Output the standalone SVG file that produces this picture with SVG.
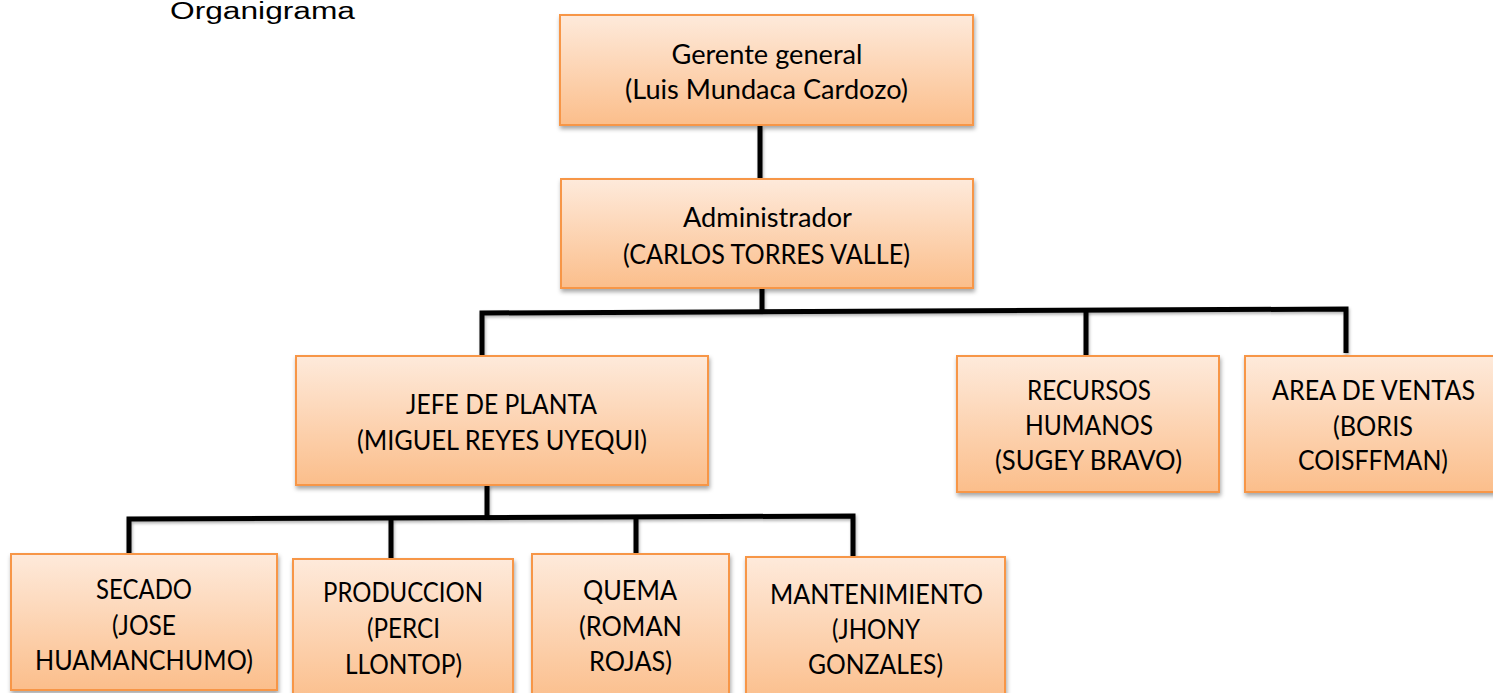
<svg xmlns="http://www.w3.org/2000/svg" width="1493" height="693" viewBox="0 0 1493 693">
<defs>
<linearGradient id="g" x1="0" y1="0" x2="0" y2="1">
<stop offset="0" stop-color="#FEEADB"/>
<stop offset="1" stop-color="#FBBE8B"/>
</linearGradient>
<filter id="sh" x="-10%" y="-10%" width="120%" height="130%">
<feDropShadow dx="1" dy="3" stdDeviation="2" flood-color="#000" flood-opacity="0.35"/>
</filter>
<filter id="lsh" filterUnits="userSpaceOnUse" x="0" y="0" width="1493" height="693">
<feDropShadow dx="1" dy="2" stdDeviation="1.5" flood-color="#000" flood-opacity="0.3"/>
</filter>
</defs>
<style>
.box{fill:url(#g);stroke:#F79646;stroke-width:2;filter:url(#sh)}
.t{font-family:Lato,"Open Sans","Noto Sans",sans-serif;font-size:26px;fill:#000;text-anchor:middle;transform:translateY(2px)}
.c{fill:none;stroke:#000;stroke-width:5;stroke-linejoin:miter;filter:url(#lsh)}
</style>
<rect width="1493" height="693" fill="#fff"/>
<text x="170" y="19" font-family="Liberation Sans, Arial, sans-serif" font-size="23" textLength="185" lengthAdjust="spacingAndGlyphs">Organigrama</text>
<g id="connectors">
<path class="c" d="M760,126 V179"/>
<path class="c" d="M762,288 V311"/>
<path class="c" d="M482,355 V313 L1346,309 V353"/>
<path class="c" d="M1086,310 V356"/>
<path class="c" d="M487,485 V517"/>
<path class="c" d="M129,555 V519 L853,516 V558"/>
<path class="c" d="M391,519 V560"/>
<path class="c" d="M636,518 V555"/>
</g>
<g id="gerente">
<rect class="box" x="560" y="15" width="413" height="110"/>
<text class="t" x="767" y="62" textLength="191" lengthAdjust="spacingAndGlyphs">Gerente general</text>
<text class="t" x="766.5" y="97" textLength="283" lengthAdjust="spacingAndGlyphs">(Luis Mundaca Cardozo)</text>
</g>
<g id="administrador">
<rect class="box" x="561" y="179" width="412" height="109"/>
<text class="t" x="767.5" y="225" textLength="169" lengthAdjust="spacingAndGlyphs">Administrador</text>
<text class="t" x="766.5" y="262" textLength="287" lengthAdjust="spacingAndGlyphs">(CARLOS TORRES VALLE)</text>
</g>
<g id="jefe">
<rect class="box" x="296" y="356" width="412" height="129"/>
<text class="t" x="501.5" y="412" textLength="191" lengthAdjust="spacingAndGlyphs">JEFE DE PLANTA</text>
<text class="t" x="502" y="448" textLength="290" lengthAdjust="spacingAndGlyphs">(MIGUEL REYES UYEQUI)</text>
</g>
<g id="rrhh">
<rect class="box" x="957" y="356" width="262" height="136"/>
<text class="t" x="1089" y="398" textLength="124" lengthAdjust="spacingAndGlyphs">RECURSOS</text>
<text class="t" x="1089" y="433" textLength="128" lengthAdjust="spacingAndGlyphs">HUMANOS</text>
<text class="t" x="1088.5" y="468" textLength="187" lengthAdjust="spacingAndGlyphs">(SUGEY BRAVO)</text>
</g>
<g id="ventas">
<rect class="box" x="1245" y="356" width="262" height="136"/>
<text class="t" x="1373.5" y="398" textLength="203" lengthAdjust="spacingAndGlyphs">AREA DE VENTAS</text>
<text class="t" x="1373" y="434" textLength="80" lengthAdjust="spacingAndGlyphs">(BORIS</text>
<text class="t" x="1373" y="468" textLength="150" lengthAdjust="spacingAndGlyphs">COISFFMAN)</text>
</g>
<g id="secado">
<rect class="box" x="11" y="554" width="266" height="136"/>
<text class="t" x="144" y="597" textLength="96" lengthAdjust="spacingAndGlyphs">SECADO</text>
<text class="t" x="144" y="633" textLength="64" lengthAdjust="spacingAndGlyphs">(JOSE</text>
<text class="t" x="144" y="668" textLength="218" lengthAdjust="spacingAndGlyphs">HUAMANCHUMO)</text>
</g>
<g id="produccion">
<rect class="box" x="293" y="559" width="220" height="145"/>
<text class="t" x="403" y="600" textLength="160" lengthAdjust="spacingAndGlyphs">PRODUCCION</text>
<text class="t" x="403.5" y="636" textLength="73" lengthAdjust="spacingAndGlyphs">(PERCI</text>
<text class="t" x="403.5" y="672" textLength="117" lengthAdjust="spacingAndGlyphs">LLONTOP)</text>
</g>
<g id="quema">
<rect class="box" x="532" y="554" width="197" height="150"/>
<text class="t" x="630" y="598" textLength="94" lengthAdjust="spacingAndGlyphs">QUEMA</text>
<text class="t" x="630.5" y="634" textLength="103" lengthAdjust="spacingAndGlyphs">(ROMAN</text>
<text class="t" x="630.5" y="669" textLength="83" lengthAdjust="spacingAndGlyphs">ROJAS)</text>
</g>
<g id="mantenimiento">
<rect class="box" x="746" y="557" width="259" height="147"/>
<text class="t" x="876.5" y="602" textLength="213" lengthAdjust="spacingAndGlyphs">MANTENIMIENTO</text>
<text class="t" x="876" y="637" textLength="88" lengthAdjust="spacingAndGlyphs">(JHONY</text>
<text class="t" x="875.5" y="672" textLength="135" lengthAdjust="spacingAndGlyphs">GONZALES)</text>
</g>
</svg>
